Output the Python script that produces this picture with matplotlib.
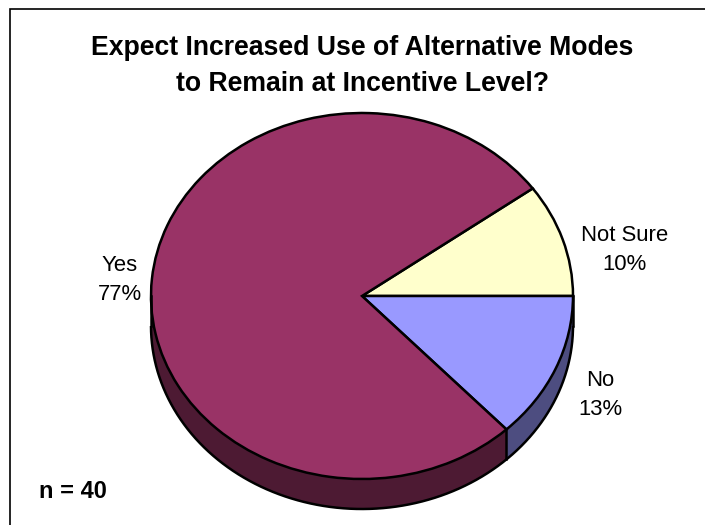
import numpy as np
import matplotlib
matplotlib.use("Agg")
import matplotlib.pyplot as plt

labels = ["Not Sure", "No", "Yes"]
values = [10, 13, 77]
top_colors = ["#FFFFCC", "#9999FF", "#993366"]
side_colors = ["#80806A", "#4D4D80", "#4D1A33"]
title = "Expect Increased Use of Alternative Modes\nto Remain at Incentive Level?"

W, H = 705, 525
plt.rcParams["font.family"] = ["Liberation Sans", "DejaVu Sans"]
fig = plt.figure(figsize=(W / 100, H / 100), dpi=100, facecolor="white")
ax = fig.add_axes([0, 0, 1, 1])

# Unit pie stretched to an ellipse: rx=211px, ry=183px
rx, ry = 211.0, 183.0
cx, cy = 362.0, 296.0
depth = 30.0 / ry
start = 36
fracs = np.array(values, dtype=float) / sum(values)
LW = 1.8

# side wall
for off in np.linspace(depth, 0, 61):
    ax.pie(values, colors=side_colors, startangle=start, counterclock=False,
           center=(0, -off), radius=1, wedgeprops=dict(edgecolor="none", linewidth=0),
           frame=True)

# top face
ax.pie(values, colors=top_colors, startangle=start, counterclock=False,
       center=(0, 0), radius=1, wedgeprops=dict(edgecolor="black", linewidth=LW),
       frame=True)
ax.set_aspect("auto")
ax.set_xlim(-cx / rx, (W - cx) / rx)
ax.set_ylim((cy - H) / ry, cy / ry)
ax.axis("off")

# wall outline
t = np.linspace(np.pi, 2 * np.pi, 300)
ax.plot(np.cos(t), np.sin(t) - depth, color="black", lw=LW, solid_capstyle="butt", zorder=5)
ax.plot([-1, -1], [0, -depth], color="black", lw=LW, zorder=5)
ax.plot([1, 1], [0, -depth], color="black", lw=LW, zorder=5)
a = np.deg2rad(start - 360 * (fracs[0] + fracs[1]))
ax.plot([np.cos(a)] * 2, [np.sin(a), np.sin(a) - depth], color="black", lw=LW, zorder=5)

def px(x, y):
    return x / W, 1 - y / H

# slice labels
label_pos = [(625, 250), (600, 395), (120, 280)]
for lab, v, (x, y) in zip(labels, values, label_pos):
    fig.text(*px(x, y), f"{lab}\n{v}%", ha="center", va="center", fontsize=15.9,
             linespacing=1.45, color="black")

fig.text(*px(362, 66), title, ha="center", va="center", fontsize=19.2,
         fontweight="bold", linespacing=1.53)
fig.text(*px(39, 491.5), "n = 40", ha="left", va="center", fontsize=17, fontweight="bold")

# chart frame: only the top and left edges fall inside the picture
fig.add_artist(plt.Line2D([10 / W, 10 / W, 1], [0, 1 - 9 / H, 1 - 9 / H], color="black",
                          linewidth=1.2, transform=fig.transFigure, solid_joinstyle="miter"))

fig.savefig("out.png", dpi=100, facecolor="white")
